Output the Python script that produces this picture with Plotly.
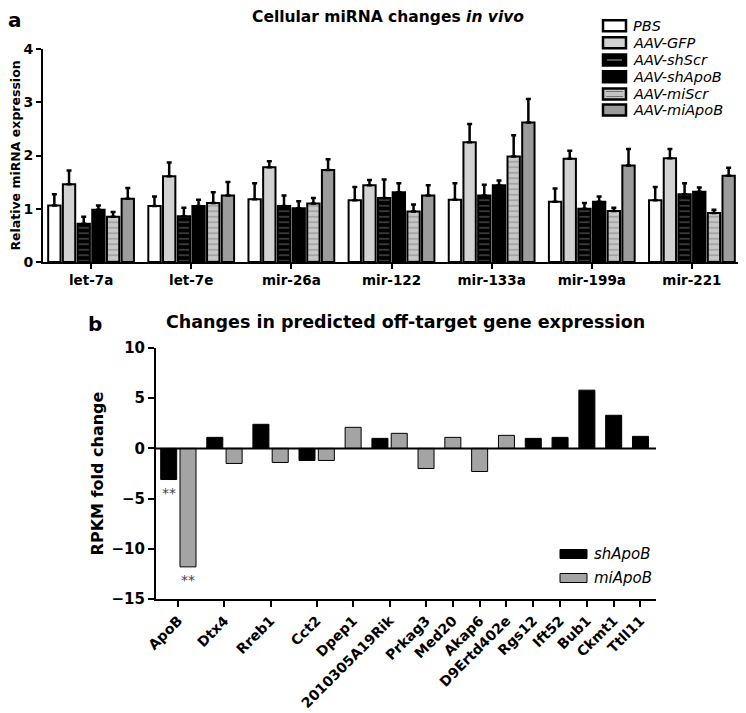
import plotly.graph_objects as go

# ---------------- Panel a data ----------------
mirnas = ["let-7a", "let-7e", "mir-26a", "mir-122", "mir-133a", "mir-199a", "mir-221"]
groups_a = ["PBS", "AAV-GFP", "AAV-shScr", "AAV-shApoB", "AAV-miScr", "AAV-miApoB"]
pbs      = [1.06, 1.05, 1.18, 1.16, 1.17, 1.13, 1.16]
pbs_err  = [0.21, 0.18, 0.30, 0.25, 0.31, 0.25, 0.25]
gfp      = [1.46, 1.61, 1.78, 1.44, 2.25, 1.94, 1.95]
gfp_err  = [0.26, 0.26, 0.11, 0.10, 0.34, 0.15, 0.17]
shscr    = [0.72, 0.86, 1.05, 1.20, 1.25, 1.00, 1.27]
shscr_err= [0.13, 0.16, 0.20, 0.35, 0.20, 0.11, 0.21]
shapob   = [0.98, 1.05, 1.01, 1.31, 1.44, 1.13, 1.32]
shapob_err=[0.08, 0.12, 0.13, 0.17, 0.09, 0.10, 0.08]
miscr    = [0.85, 1.11, 1.10, 0.95, 1.98, 0.96, 0.92]
miscr_err= [0.09, 0.20, 0.10, 0.13, 0.40, 0.06, 0.06]
miapob   = [1.19, 1.25, 1.73, 1.25, 2.62, 1.81, 1.62]
miapob_err=[0.20, 0.25, 0.20, 0.19, 0.44, 0.31, 0.15]

# ---------------- Panel b data ----------------
genes = ["ApoB", "Dtx4", "Rreb1", "Cct2", "Dpep1", "2010305A19Rik", "Prkag3", "Med20",
         "Akap6", "D9Ertd402e", "Rgs12", "Ift52", "Bub1", "Ckmt1", "Ttll11"]
sh_b = [-3.1, 1.1, 2.4, -1.2, None, 1.0, None, None, None, None, 1.0, 1.1, 5.8, 3.3, 1.2]
mi_b = [-11.8, -1.5, -1.4, -1.2, 2.1, 1.5, -2.0, 1.1, -2.3, 1.3, None, None, None, None, None]
signif_sh = ["**", "", "", "", "", "", "", "", "", "", "", "", "", "", ""]
signif_mi = ["**", "", "", "", "", "", "", "", "", "", "", "", "", "", ""]

FONT = "DejaVu Sans"
W, H = 746, 713
OFF = 8  # page body margin offset of the rendered figure

def px(x):
    return (x - OFF) / W

def py(y):
    return 1 - (y - OFF) / H

fig = go.Figure()

# ---- Panel a traces ----
styles_a = [
    dict(color="white"),
    dict(color="#d2d2d2"),
    dict(color="black", pattern=dict(shape="-", fgcolor="#9a9a9a", bgcolor="black", size=5.5, solidity=0.25)),
    dict(color="black"),
    dict(color="#c4c4c4", pattern=dict(shape="-", fgcolor="#7a7a7a", bgcolor="#c8c8c8", size=5.5, solidity=0.3)),
    dict(color="#9c9c9c"),
]
vals_a = [pbs, gfp, shscr, shapob, miscr, miapob]
errs_a = [pbs_err, gfp_err, shscr_err, shapob_err, miscr_err, miapob_err]
for name, st, v, e in zip(groups_a, styles_a, vals_a, errs_a):
    marker = dict(color=st["color"], line=dict(color="black", width=2))
    if "pattern" in st:
        marker["pattern"] = st["pattern"]
    fig.add_trace(go.Bar(
        x=mirnas, y=v, name=name, marker=marker,
        error_y=dict(type="data", array=e, arrayminus=[0] * len(e), symmetric=False,
                     color="black", thickness=2.5, width=2.5),
        xaxis="x", yaxis="y", showlegend=False,
    ))

# ---- Panel b positions (bars of missing values take no space) ----
within, between = 1.0, 0.389
xs_sh, xs_mi, centers = [], [], []
pos = 0.0
for s, m in zip(sh_b, mi_b):
    here = []
    if s is not None:
        xs_sh.append(pos); here.append(pos); pos += within
    else:
        xs_sh.append(None)
    if m is not None:
        xs_mi.append(pos); here.append(pos); pos += within
    else:
        xs_mi.append(None)
    centers.append(sum(here) / len(here))
    pos += between

def keep(xs, ys):
    out_x, out_y = [], []
    for a, b in zip(xs, ys):
        if a is not None and b is not None:
            out_x.append(a); out_y.append(b)
    return out_x, out_y

sx, sy = keep(xs_sh, sh_b)
mx, my = keep(xs_mi, mi_b)
fig.add_trace(go.Bar(x=sx, y=sy, width=0.83, name="shApoB",
                     marker=dict(color="black", line=dict(color="black", width=1)),
                     xaxis="x2", yaxis="y2", showlegend=False))
fig.add_trace(go.Bar(x=mx, y=my, width=0.83, name="miApoB",
                     marker=dict(color="#a4a4a4", line=dict(color="black", width=1)),
                     xaxis="x2", yaxis="y2", showlegend=False))

annotations = []
for xs, ys, ts in ((xs_sh, sh_b, signif_sh), (xs_mi, mi_b, signif_mi)):
    for xx, yy, t in zip(xs, ys, ts):
        if t and xx is not None:
            annotations.append(dict(x=xx, y=yy, xref="x2", yref="y2", text=t, showarrow=False,
                                    yanchor="top", yshift=-3,
                                    font=dict(family=FONT, size=14, color="#444")))

# Titles / panel labels
annotations += [
    dict(x=px(7), y=1.0, xref="paper", yref="paper", text="<b>a</b>", showarrow=False,
         xanchor="left", yanchor="top", borderpad=0, yshift=1, font=dict(family=FONT, size=20, color="black")),
    dict(x=px(388), y=1.0, xref="paper", yref="paper", text="<b>Cellular miRNA changes <i>in vivo</i></b>",
         showarrow=False, xanchor="center", yanchor="top", borderpad=0, yshift=1,
         font=dict(family=FONT, size=15.5, color="black")),
    dict(x=px(86), y=py(310), xref="paper", yref="paper", text="<b>b</b>", showarrow=False,
         xanchor="left", yanchor="top", font=dict(family=FONT, size=20, color="black")),
    dict(x=px(405), y=py(310), xref="paper", yref="paper", text="<b>Changes in predicted off-target gene expression</b>",
         showarrow=False, xanchor="center", yanchor="top", font=dict(family=FONT, size=17.5, color="black")),
]

# Custom legends
shapes = []
leg_a_y = [25.7, 42.7, 60, 76.7, 94, 110]
leg_a_fill = ["white", "#d2d2d2", "black", "black", "#c4c4c4", "#9c9c9c"]
for i, (name, yc, fc) in enumerate(zip(groups_a, leg_a_y, leg_a_fill)):
    shapes.append(dict(type="rect", xref="paper", yref="paper", x0=px(603), x1=px(626),
                       y0=py(yc - 5.5), y1=py(yc + 5.5), fillcolor=fc, line=dict(color="black", width=2.5)))
    if i == 2:
        shapes.append(dict(type="line", xref="paper", yref="paper", x0=px(607), x1=px(622),
                           y0=py(yc), y1=py(yc), line=dict(color="#8a8a8a", width=1.2)))
    if i == 4:
        for dy in (-2.5, 2.5):
            shapes.append(dict(type="line", xref="paper", yref="paper", x0=px(606), x1=px(623),
                               y0=py(yc + dy), y1=py(yc + dy), line=dict(color="#777", width=1)))
    annotations.append(dict(x=px(631), y=py(yc), xref="paper", yref="paper", text="<i>%s</i>" % name,
                            showarrow=False, xanchor="left", yanchor="middle",
                            font=dict(family=FONT, size=14.5, color="black")))

leg_b_y = [554, 578]
leg_b_fill = ["black", "#a4a4a4"]
for name, yc, fc in zip(["shApoB", "miApoB"], leg_b_y, leg_b_fill):
    shapes.append(dict(type="rect", xref="paper", yref="paper", x0=px(560), x1=px(587),
                       y0=py(yc - 4.5), y1=py(yc + 4.5), fillcolor=fc, line=dict(color="black", width=1)))
    annotations.append(dict(x=px(592), y=py(yc), xref="paper", yref="paper", text="<i>%s</i>" % name,
                            showarrow=False, xanchor="left", yanchor="middle",
                            font=dict(family=FONT, size=15, color="black")))

# zero line for panel b across the whole axis
shapes.append(dict(type="line", xref="x2 domain", yref="y2", x0=0, x1=1, y0=0, y1=0,
                   line=dict(color="black", width=2)))

axis_common = dict(showgrid=False, showline=True, linecolor="black", linewidth=2,
                   ticks="outside", tickcolor="black", tickwidth=2, automargin=False,
                   zeroline=False)

fig.update_layout(
    width=W, height=H, margin=dict(l=0, r=0, t=0, b=0, pad=0, autoexpand=False),
    paper_bgcolor="white", plot_bgcolor="white",
    barmode="group", bargap=0.12, bargroupgap=0.16,
    showlegend=False,
    font=dict(family=FONT, color="black"),
    xaxis=dict(domain=[px(43), px(742)], range=[-0.48, 6.5], anchor="y", ticklen=5,
               tickfont=dict(family=FONT, size=13.5, color="black"),
               tickprefix="<b>", ticksuffix="</b>", **axis_common),
    yaxis=dict(domain=[py(262), py(49)], range=[0, 4], dtick=1, anchor="x", ticklen=5,
               title=dict(text="<b>Relative miRNA expression</b>", font=dict(family=FONT, size=12.5)),
               tickfont=dict(family=FONT, size=14, color="black"),
               tickprefix="<b>", ticksuffix="</b>", **axis_common),
    xaxis2=dict(domain=[px(156), px(656)], range=[-0.658, 25.25], anchor="y2",
                tickmode="array", tickvals=centers, ticktext=["<b>%s</b>" % g for g in genes],
                tickangle=-45, ticklen=6, tickfont=dict(family=FONT, size=14, color="black"),
                **axis_common),
    yaxis2=dict(domain=[py(599), py(348)], range=[-15, 10], dtick=5, anchor="x2", ticklen=6,
                title=dict(text="<b>RPKM fold change</b>", font=dict(family=FONT, size=16), standoff=4),
                tickfont=dict(family=FONT, size=15, color="black"),
                tickprefix="<b>", ticksuffix="</b>", **axis_common),
    annotations=annotations, shapes=shapes,
)

fig.write_html("out.html")
